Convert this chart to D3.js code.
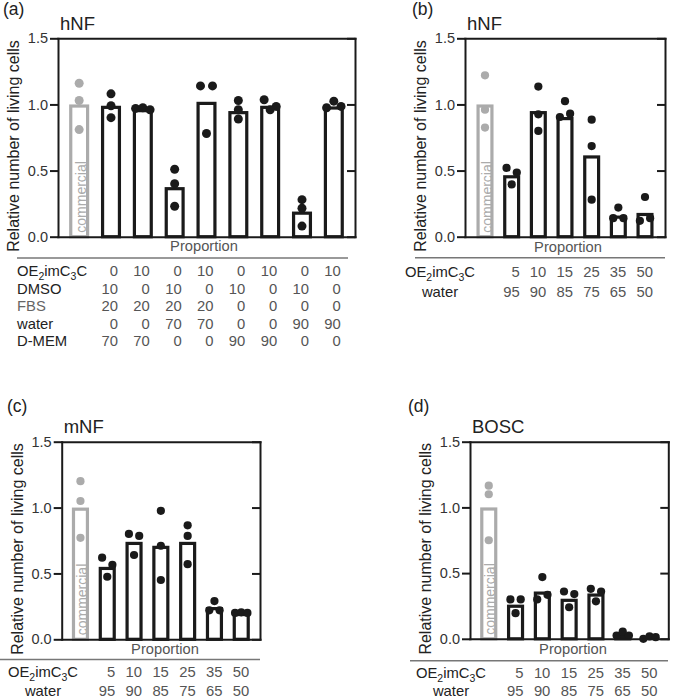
<!DOCTYPE html>
<html><head><meta charset="utf-8">
<script src="https://cdn.jsdelivr.net/npm/d3@7"></script>
<style>html,body{margin:0;padding:0;background:#fff;} svg{display:block;}</style>
</head><body>
<svg id="chart" width="675" height="699"></svg>
<script>
// ---------- DATA ----------
const yTickValues = [0, 0.5, 1.0, 1.5];

// Panel (a) hNF
const catsA = ["commercial", "c1", "c2", "c3", "c4", "c5", "c6", "c7", "c8"];
const barsA = [1.0, 0.99, 0.965, 0.375, 1.02, 0.95, 0.99, 0.19, 0.985];
const dotsA = [
  [1.16, 1.03, 0.81],
  [1.08, 0.99, 0.90],
  [0.97, 0.975, 0.96],
  [0.51, 0.40, 0.23],
  [1.14, 1.14, 0.78],
  [1.03, 0.96, 0.89],
  [1.035, 0.985, 0.96],
  [0.28, 0.215, 0.08],
  [0.975, 1.025, 0.985]
];
const rowLabelsA = ["OE2imC3C", "DMSO", "FBS", "water", "D-MEM"];
const oeA    = [0, 10, 0, 10, 0, 10, 0, 10];
const dmsoA  = [10, 0, 10, 0, 10, 0, 10, 0];
const fbsA   = [20, 20, 20, 20, 0, 0, 0, 0];
const waterA = [0, 0, 70, 70, 0, 0, 90, 90];
const dmemA  = [70, 70, 0, 0, 90, 90, 0, 0];

// Panels (b)-(d): shared categories / proportions
const catsP = ["commercial", "5", "10", "15", "25", "35", "50"];
const oeP    = [5, 10, 15, 25, 35, 50];
const waterP = [95, 90, 85, 75, 65, 50];

// Panel (b) hNF
const barsB = [1.0, 0.465, 0.95, 0.905, 0.615, 0.16, 0.18];
const dotsB = [
  [1.22, 0.96, 0.825],
  [0.52, 0.485, 0.395],
  [1.135, 0.925, 0.80],
  [1.025, 0.905, 0.93],
  [0.885, 0.685, 0.28],
  [0.22, 0.14, 0.14],
  [0.30, 0.12, 0.14]
];
// Panel (c) mNF
const barsC = [1.0, 0.55, 0.74, 0.71, 0.74, 0.245, 0.20];
const dotsC = [
  [1.20, 1.05, 0.77],
  [0.62, 0.565, 0.475],
  [0.80, 0.785, 0.64],
  [0.975, 0.71, 0.45],
  [0.865, 0.785, 0.57],
  [0.29, 0.22, 0.22],
  [0.20, 0.205, 0.20]
];
// Panel (d) BOSC
const barsD = [1.0, 0.26, 0.36, 0.305, 0.345, 0.035, 0.01];
const dotsD = [
  [1.165, 1.10, 0.75],
  [0.30, 0.30, 0.195],
  [0.47, 0.30, 0.335],
  [0.36, 0.34, 0.24],
  [0.38, 0.36, 0.285],
  [0.025, 0.055, 0.025],
  [0.0, 0.018, 0.012]
];

// ---------- DRAWING ----------
const FONT = "'Liberation Sans', Arial, Helvetica, sans-serif";
const BLACK = "#1a1a1a", GRAY = "#ababab", TXT = "#222", TXT2 = "#555";
const svg = d3.select("#chart").style("font-family", FONT);

function swarm(vals, y, bw) {
  const idx = vals.map((v, i) => i).sort((a, b) => vals[b] - vals[a]);
  const rows = [];
  idx.forEach(i => {
    const last = rows[rows.length - 1];
    if (last && Math.abs(y(vals[i]) - y(vals[last[0]])) < 8) last.push(i);
    else rows.push([i]);
  });
  const off = new Array(vals.length).fill(0);
  rows.forEach(r => {
    r.sort((a, b) => a - b);
    const k = r.length;
    const sp = k === 2 ? bw * 0.6 : bw * 0.36;
    r.forEach((i, j) => off[i] = (j - (k - 1) / 2) * sp);
  });
  return off;
}

function oeText(sel) {
  sel.append("tspan").text("OE");
  sel.append("tspan").attr("font-size", 10.5).attr("dy", 4).text("2");
  sel.append("tspan").attr("dy", -4).text("imC");
  sel.append("tspan").attr("font-size", 10.5).attr("dy", 4).text("3");
  sel.append("tspan").attr("dy", -4).text("C");
}

function drawPanel(c) {
  const g = svg.append("g");
  const x = d3.scaleBand().domain(c.cats).range([c.x0, c.x1])
    .paddingInner(c.pi).paddingOuter(c.po);
  const y = d3.scaleLinear().domain([0, 1.5]).range([c.y1, c.y0]);
  const bw = x.bandwidth();
  const cx = i => x(c.cats[i]) + bw / 2;

  // bars
  g.selectAll("rect.bar").data(c.bars).join("rect").attr("class", "bar")
    .attr("x", (d, i) => x(c.cats[i]) + 1.6)
    .attr("y", d => y(d) + 1.6)
    .attr("width", bw - 3.2)
    .attr("height", d => Math.max(0, y(0) - y(d) - 1.6))
    .attr("fill", "#fff")
    .attr("stroke", (d, i) => i === 0 ? GRAY : BLACK)
    .attr("stroke-width", 3.2);

  // commercial label
  g.append("text")
    .attr("transform", `translate(${cx(0) + 6.5},${y(0) - 4}) rotate(-90)`)
    .attr("font-size", 14).attr("fill", GRAY).attr("text-anchor", "start")
    .text("commercial");

  // dots
  c.dots.forEach((vals, i) => {
    const off = swarm(vals, y, bw);
    g.selectAll(null).data(vals).join("circle")
      .attr("cx", (d, j) => cx(i) + off[j])
      .attr("cy", d => y(d))
      .attr("r", c.r)
      .attr("fill", i === 0 ? GRAY : BLACK);
  });

  // axes
  const left = g.append("g").attr("transform", `translate(${c.x0},0)`)
    .call(d3.axisLeft(y).tickValues(yTickValues).tickSize(8).tickSizeOuter(0)
      .tickPadding(2).tickFormat(d3.format(".1f")));
  const right = g.append("g").attr("transform", `translate(${c.x1},0)`)
    .call(d3.axisRight(y).tickValues(yTickValues).tickSize(-8).tickSizeOuter(0).tickFormat(""));
  const top = g.append("g").attr("transform", `translate(0,${c.y0})`)
    .call(d3.axisTop(x).tickSize(0).tickSizeOuter(0).tickFormat(""));
  const bottom = g.append("g").attr("transform", `translate(0,${c.y1})`)
    .call(d3.axisBottom(x).tickSize(0).tickSizeOuter(0).tickFormat(""));
  [left, right, top, bottom].forEach(a => {
    a.select(".domain").attr("stroke", BLACK).attr("stroke-width", 2).attr("stroke-linecap", "square");
    a.selectAll(".tick line").attr("stroke", BLACK).attr("stroke-width", 2);
    a.selectAll(".tick text").attr("font-size", 14.5).attr("fill", "#333").attr("font-family", FONT);
  });

  // y label
  g.append("text")
    .attr("transform", `translate(${c.x0 - 39},${(c.y0 + c.y1) / 2 + 8.5}) rotate(-90)`)
    .attr("text-anchor", "middle").attr("font-size", 16).attr("fill", TXT)
    .text("Relative number of living cells");

  // panel letter & title
  g.append("text").attr("x", c.lx).attr("y", c.ly).attr("font-size", 17.5).attr("fill", TXT).text(c.letter);
  g.append("text").attr("x", c.x0 + 2).attr("y", c.y0 - 8.5).attr("font-size", 18.5).attr("fill", TXT).text(c.title);

  // Proportion + separator
  g.append("text").attr("x", c.propX).attr("y", c.propY).attr("text-anchor", "middle")
    .attr("font-size", 14.7).attr("fill", TXT2).text("Proportion");
  g.append("line").attr("x1", c.sepX0).attr("x2", c.sepX1).attr("y1", c.sepY).attr("y2", c.sepY)
    .attr("stroke", "#777").attr("stroke-width", 1.5);

  return {x, y, cx, g};
}

// Panel (a)
(function () {
  const c = {cats: catsA, bars: barsA, dots: dotsA, x0: 58, x1: 355, y0: 38.3, y1: 236.7,
    pi: 0.37, po: 0.35, r: 4.5, letter: "(a)", title: "hNF", lx: 3, ly: 15,
    propX: 204, propY: 251, sepX0: 17, sepX1: 348, sepY: 258};
  const p = drawPanel(c);
  const rows = [oeA, dmsoA, fbsA, waterA, dmemA];
  const base = [276, 293.5, 311, 328.5, 346];
  rows.forEach((vals, r) => {
    const t = p.g.append("text").attr("x", 17).attr("y", base[r]).attr("font-size", 14.8)
      .attr("fill", r === 2 ? "#666" : TXT);
    if (r === 0) oeText(t); else t.text(rowLabelsA[r]);
    p.g.selectAll(null).data(vals).join("text")
      .attr("x", (d, i) => p.cx(i + 1) + 7).attr("y", base[r])
      .attr("text-anchor", "end").attr("font-size", 14.8).attr("fill", TXT2).text(d => d);
  });
})();

function propPanel(c) {
  const p = drawPanel(c);
  const rows = [oeP, waterP];
  rows.forEach((vals, r) => {
    const t = p.g.append("text").attr("x", c.tabLX).attr("y", c.tabY[r]).attr("font-size", 14.8)
      .attr("text-anchor", "middle").attr("fill", TXT);
    if (r === 0) oeText(t); else t.text("water");
    p.g.selectAll(null).data(vals).join("text")
      .attr("x", (d, i) => p.cx(i + 1) + 8).attr("y", c.tabY[r])
      .attr("text-anchor", "end").attr("font-size", 14.8).attr("fill", TXT2).text(d => d);
  });
}

propPanel({cats: catsP, bars: barsB, dots: dotsB, x0: 465, x1: 665, y0: 38.3, y1: 236.7,
  pi: 0.36, po: 0.43, r: 4.1, letter: "(b)", title: "hNF", lx: 412, ly: 15,
  propX: 568, propY: 252, sepX0: 415, sepX1: 665, sepY: 257.7, tabLX: 440, tabY: [277, 297]});
propPanel({cats: catsP, bars: barsC, dots: dotsC, x0: 61.7, x1: 260, y0: 441.7, y1: 639.3,
  pi: 0.36, po: 0.38, r: 4.1, letter: "(c)", title: "mNF", lx: 7, ly: 412,
  propX: 165, propY: 654, sepX0: 0, sepX1: 260, sepY: 659.5, tabLX: 43, tabY: [677, 696]});
propPanel({cats: catsP, bars: barsD, dots: dotsD, x0: 470, x1: 668.3, y0: 441.7, y1: 638.8,
  pi: 0.36, po: 0.38, r: 4.1, letter: "(d)", title: "BOSC", lx: 408, ly: 412,
  propX: 573, propY: 654, sepX0: 410, sepX1: 668, sepY: 660.7, tabLX: 451, tabY: [678, 696]});
</script>
</body></html>
